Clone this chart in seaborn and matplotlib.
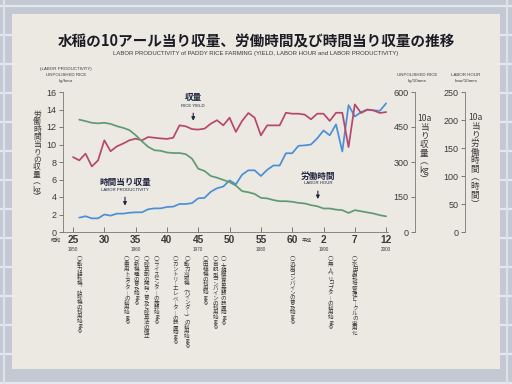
import matplotlib
matplotlib.use("Agg")
import matplotlib.pyplot as plt
from matplotlib.patches import Rectangle
from matplotlib.lines import Line2D
import seaborn as sns

# 収量 (kg/10a)
yield_years = list(range(1950, 2001))
rice_yield = [321, 307, 336, 281, 307, 393, 346, 367, 379, 393,
              400, 393, 407, 404, 401, 399, 404, 457, 453, 441,
              439, 443, 464, 479, 457, 490, 429, 476, 510, 490,
              414, 457, 457, 457, 511, 507, 507, 503, 483, 507,
              507, 476, 511, 511, 364, 547, 510, 524, 521, 510, 514]

# 労働時間 (hour/10a) と 時間当り収量 (kg/hour)
labor_years = list(range(1951, 2001))
labor_hours = [200.6, 198, 195, 194, 195, 193, 189, 186, 182, 173,
               162, 152, 146, 145, 142, 141, 141, 139, 131, 113,
               109, 100, 97, 93, 89, 83, 73, 71, 68, 61,
               60, 57, 55, 55, 54, 52, 51, 48, 46, 42,
               42, 40, 39, 34, 39, 37, 35, 33, 30, 28]
productivity = [1.64, 1.8, 1.56, 1.56, 2.0, 1.87, 2.1, 2.1, 2.2, 2.25,
                2.25, 2.6, 2.7, 2.7, 2.86, 2.9, 3.2, 3.2, 3.3, 3.85,
                3.9, 4.6, 5.0, 5.2, 5.9, 5.45, 6.55, 7.05, 7.05, 6.4,
                7.1, 7.6, 7.6, 9.0, 9.0, 9.85, 9.9, 10.0, 10.7, 11.6,
                11.05, 12.3, 9.2, 14.5, 13.2, 13.7, 14.0, 13.9, 13.85, 14.7]

tick_years = [1950, 1955, 1960, 1965, 1970, 1975, 1980, 1985, 1990, 1995, 2000]
tick_labels = ["25", "30", "35", "40", "45", "50", "55", "60", "2", "7", "12"]
western_years = [1950, 1960, 1970, 1980, 1990, 2000]

event_years = [1951, 1958.6, 1960.1, 1961.7, 1963.3, 1966.3, 1968.2,
               1971.1, 1972.7, 1974.0, 1985.0, 1991.1, 1995.0]
event_texts = ["動力耕耘機、防除機の利用始まる",
               "乗用トラクターの利用始まる",
               "新機種の普及始まる",
               "除草剤の開発・普及と除草法の確立",
               "ライスセンターの施設始まる",
               "カントリーエレベーターの設置始まる",
               "動力刈取機（バインダー）の利用始まる",
               "田植機の利用始まる",
               "自脱型コンバインの利用始まる",
               "大規模育苗施設の設置始まる",
               "汎用コンバインの普及始まる",
               "無人ヘリコプターの利用始まる",
               "水田用栽培管理ビークルの実用化"]

RED = "#b8476a"
BLUE = "#4a8fd8"
GREEN = "#5f9a72"
NAVY = "#1f2440"
INK = "#3a3a3a"
JP = ["Noto Sans CJK JP", "DejaVu Sans"]
NUM = ["Liberation Sans Narrow", "Liberation Sans", "DejaVu Sans"]

sns.set_style("ticks")
plt.rcParams["font.family"] = JP

W, H = 512, 384
fx = lambda px: px / W
fy = lambda py: 1 - py / H

VERT = {"ー": "｜", "、": "︑", "（": "︵", "）": "︶"}


def vert(s):
    # 縦書き: 1文字ずつ改行、英数字の連続はまとめる
    out, buf = [], ""
    for c in s:
        if c.isascii() and c.isalnum():
            buf += c
            continue
        if buf:
            out.append(buf)
            buf = ""
        out.append(VERT.get(c, c))
    if buf:
        out.append(buf)
    return "\n".join(out)


fig = plt.figure(figsize=(W / 100, H / 100), dpi=100, facecolor="#c3c8d2")

# 背景の金網とパネル
for gy in range(6, H, 29):
    fig.add_artist(Line2D([0, 1], [fy(gy), fy(gy)], color="#e4e7ee", lw=1.6, zorder=-3))
for gx in [4, 507]:
    fig.add_artist(Line2D([fx(gx), fx(gx)], [0, 1], color="#dde1e8", lw=1.6, zorder=-3))
fig.add_artist(Rectangle((fx(12), fy(369)), fx(500) - fx(12), fy(14) - fy(369),
                         transform=fig.transFigure, facecolor="#ebe9e2",
                         edgecolor="none", zorder=-2))

fig.text(fx(256), fy(42), "水稲の10アール当り収量、労働時間及び時間当り収量の推移",
         ha="center", va="center", fontsize=10.5, fontweight="bold", color="#1c1c24")
fig.text(fx(256), fy(53), "LABOR PRODUCTIVITY of PADDY RICE FARMING (YIELD, LABOR HOUR and LABOR PRODUCTIVITY)",
         ha="center", va="center", fontsize=4.3, color=INK, family=NUM)

# メイン軸
ax = fig.add_axes([fx(63), fy(232), fx(388) - fx(63), fy(92) - fy(232)])
ax.patch.set_alpha(0)
sns.lineplot(x=labor_years, y=productivity, ax=ax, color=BLUE, lw=1.25, zorder=3)
ax.set_xlim(1948.4, 2000.3)
ax.set_ylim(0, 16)
ax.set_yticks(range(0, 17, 2))
ax.tick_params(axis="y", direction="out", length=3, width=0.6, color="#666",
               labelsize=6.5, labelcolor=INK, pad=1.5)
ax.set_xticks(tick_years, tick_labels)
ax.tick_params(axis="x", direction="in", length=3.5, width=0.6, color="#666",
               labelsize=7.3, labelcolor=INK, pad=2.5)
for lab in ax.get_xticklabels() + ax.get_yticklabels():
    lab.set_family(NUM)
for lab in ax.get_xticklabels():
    lab.set_fontweight("bold")
for s in ["top", "right"]:
    ax.spines[s].set_visible(False)
for s in ["left", "bottom"]:
    ax.spines[s].set_color("#777")
    ax.spines[s].set_linewidth(0.6)
ax.set_xlabel("")
ax.set_ylabel("")

ax_r = ax.twinx()
sns.lineplot(x=yield_years, y=rice_yield, ax=ax_r, color=RED, lw=1.25)
ax_r.set_ylim(0, 600)
ax_r.set_axis_off()

ax_g = ax.twinx()
sns.lineplot(x=labor_years, y=labor_hours, ax=ax_g, color=GREEN, lw=1.25)
ax_g.set_ylim(0, 250)
ax_g.set_axis_off()

# 年号の補助ラベル
for yr in western_years:
    ax.text(yr, -2.05, str(yr), ha="center", va="center",
            fontsize=3.3, color=INK, family=NUM)
ax.text(1948.1, -1.0, "昭和", ha="right", va="center", fontsize=3.7, color=INK)
ax.text(1988.1, -1.0, "平成", ha="right", va="center", fontsize=3.7, color=INK)

# 右側の目盛軸
for px, top, step in [(415, 600, 150), (465, 250, 50)]:
    sax = fig.add_axes([fx(px), fy(232), 0.0001, fy(92) - fy(232)])
    sax.patch.set_alpha(0)
    sax.set_ylim(0, top)
    sax.set_yticks(range(0, top + 1, step))
    sax.set_xticks([])
    for s in ["top", "right", "bottom"]:
        sax.spines[s].set_visible(False)
    sax.spines["left"].set_color("#777")
    sax.spines["left"].set_linewidth(0.6)
    sax.tick_params(axis="y", direction="out", length=3, width=0.6, color="#666",
                    labelsize=6.5, labelcolor=INK, pad=1.5)
    for lab in sax.get_yticklabels():
        lab.set_family(NUM)

# 軸見出し
for px, lines in [(66, ["(LABOR PRODUCTIVITY)", "UNPOLISHED RICE", "kg/hour"]),
                  (417, ["UNPOLISHED RICE", "kg/10ares"]),
                  (466, ["LABOR HOUR", "hour/10ares"])]:
    y0 = 69 if len(lines) == 3 else 75
    for i, t in enumerate(lines):
        fig.text(fx(px), fy(y0 + 6 * i), t, ha="center", va="center",
                 fontsize=3.2, color=INK, family=NUM)

fig.text(fx(37), fy(156), vert("労働時間当りの収量（kg）"), ha="center", va="center",
         fontsize=5.6, color=INK, linespacing=0.92)
fig.text(fx(424), fy(149), vert("10a当り収量（kg）"), ha="center", va="center",
         fontsize=6.2, color=INK, linespacing=0.95)
fig.text(fx(475), fy(161), vert("10a当り労働時間（時間）"), ha="center", va="center",
         fontsize=6.2, color=INK, linespacing=0.95)

# 系列の注記
for x, yt, ys, y1, y2, jp, en in [(1969.2, 15.35, 14.45, 13.9, 12.4, "収量", "RICE YIELD"),
                                   (1958.3, 5.65, 4.85, 4.3, 2.7, "時間当り収量", "LABOR PRODUCTIVITY"),
                                   (1989.1, 6.35, 5.55, 5.0, 3.45, "労働時間", "LABOR HOUR")]:
    ax.text(x, yt, jp, ha="center", va="center", fontsize=6.2, fontweight="bold", color=NAVY)
    ax.text(x, ys, en, ha="center", va="center", fontsize=3.1, color=NAVY, family=NUM)
    ax.annotate("", xy=(x, y2), xytext=(x, y1),
                arrowprops=dict(arrowstyle="-|>", color=NAVY, lw=0.8, mutation_scale=5))

# 出来事（縦書き）
for yr, t in zip(event_years, event_texts):
    ax.text(yr, -2.9, vert("○" + t), ha="center", va="top", fontsize=4.0,
            color=INK, linespacing=0.93, clip_on=False)

fig.savefig("out.png", dpi=100, facecolor=fig.get_facecolor())
